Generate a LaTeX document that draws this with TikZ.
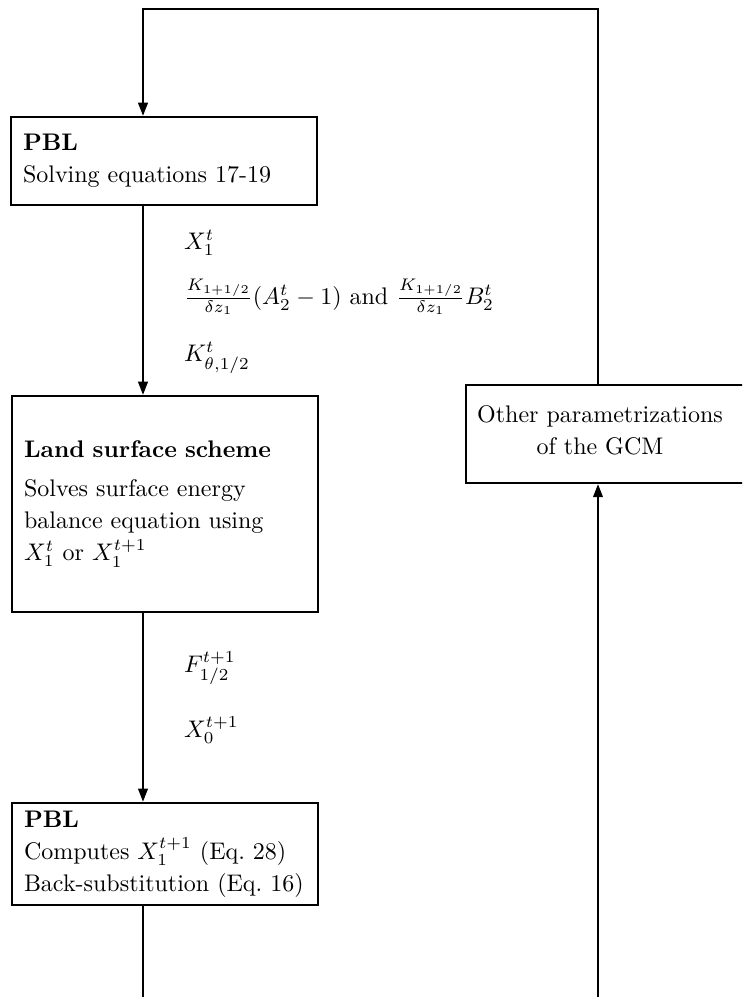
\documentclass[tikz,border=0pt]{standalone}
\usepackage{amsmath}
\usetikzlibrary{arrows.meta}

\begin{document}
\begin{tikzpicture}[x=0.41667pt, y=-0.41667pt, line width=0.9pt, >={Triangle[length=5.5pt,width=4pt]},
    every node/.style = {font=\fontsize{10}{13.3}\selectfont},
    main/.style = {draw, align=left, inner xsep=5pt, text width=117.5pt},
    lbl/.style = {anchor=west, inner sep=0pt}]
    \useasboundingbox (0,0) rectangle (742,997);
    \clip (0,0) rectangle (742,997);
    % Nodes

    \node[main, minimum height=36.7pt] (pbla) at (164,161) {\textbf{PBL}\\Solving equations 17-19};
    \node[main, minimum height=90pt] (land) at (165,504) {\textbf{Land surface scheme}\\[3pt]Solves surface energy\\balance equation using\\$X_1^t$ or $X_1^{t+1}$};
    \node[main, minimum height=41.7pt] (pblb) at (165,854) {\textbf{PBL}\\Computes~$X_1^{t+1}$~(Eq.~28)\\Back-substitution~(Eq.~16)};
    \node[draw, minimum width=122.5pt, minimum height=40.8pt] (other) at (613,434) {};
    \node[align=center] (othertxt) at (600,430) {Other parametrizations\\of the GCM};

    \node[lbl] (xa) at (183,243) {$X_1^t$};
    \node[lbl] (coef) at (183,297) {$\frac{K_{1+1/2}}{\delta z_1}(A_2^t-1)$ and $\frac{K_{1+1/2}}{\delta z_1}B_2^t$};
    \node[lbl] (ka) at (183,358) {$K_{\theta,1/2}^t$};
    \node[lbl] (fb) at (183,668) {$F_{1/2}^{t+1}$};
    \node[lbl] (xb) at (183,730) {$X_0^{t+1}$};

    \coordinate (tl) at (143,9);
    \coordinate (tr) at (598,9);
    \coordinate (bl) at (143,997);
    \coordinate (br) at (598,997);

    % Edges
    \draw[->] (other.north -| tr) -- (tr) -- (tl) -- (tl |- pbla.north);
    \draw[->] (tl |- pbla.south) -- (tl |- land.north);
    \draw[->] (tl |- land.south) -- (tl |- pblb.north);
    \draw     (tl |- pblb.south) -- (bl);
    \draw[->] (br) -- (tr |- other.south);

\end{tikzpicture}
\end{document}
